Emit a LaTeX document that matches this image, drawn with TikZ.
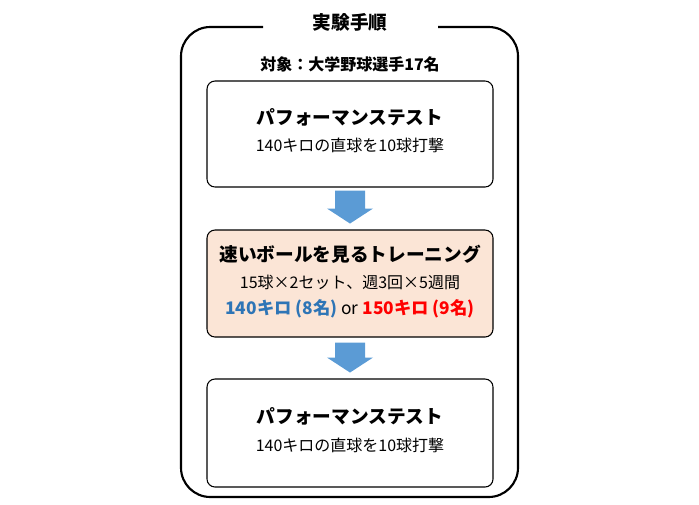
\documentclass[tikz,border=0pt]{standalone}
\usepackage{fontspec}
\setmainfont{Noto Sans CJK JP}
\usetikzlibrary{calc}
\definecolor{peach}{HTML}{FBE5D6}
\definecolor{arrowblue}{HTML}{5B9BD5}
\definecolor{txtblue}{HTML}{2E75B6}
\definecolor{txtred}{HTML}{FF0000}
\begin{document}
\begin{tikzpicture}[x=0.75pt,y=-0.75pt,
  stepbox/.style={draw=black,line width=0.8pt,rounded corners=6pt,minimum width=214.5pt,inner sep=0pt},
  bigtitle/.style={font=\fontsize{14}{16}\selectfont\bfseries,inner sep=0pt},
  subline/.style={font=\fontsize{12}{14}\selectfont,inner sep=0pt},
  boldline/.style={font=\fontsize{12}{14}\selectfont\bfseries,inner sep=0pt},
  colorline/.style={font=\fontsize{13}{15}\selectfont\bfseries,inner sep=0pt},
  blockarrow/.style={fill=arrowblue,draw=none}
]
\useasboundingbox (0,0) rectangle (699,504);
% outer frame with title gap
\coordinate (gl) at (263,27);
\coordinate (gr) at (438,27);
\draw[line width=1.6pt,rounded corners=22pt] (gl) -- (181,27) -- (181,497) -- (518,497) -- (518,27) -- (gr);
\node[bigtitle] (title) at (350,22) {実験手順};
\node[boldline] (subj) at (350,64) {対象：大学野球選手17名};
% boxes
\node[stepbox,minimum height=79.5pt] (b1) at (350,134) {};
\node[bigtitle] (b1t) at (350,117) {パフォーマンステスト};
\node[subline] (b1s) at (350,145) {140キロの直球を10球打撃};
\node[stepbox,fill=peach,minimum height=80.25pt] (b2) at (350,283.5) {};
\node[bigtitle] (b2t) at (350,254) {速いボールを見るトレーニング};
\node[subline] (b2s) at (350,282) {15球×2セット、週3回×5週間};
\node[colorline] (b2c) at (350,309) {\textcolor{txtblue}{140キロ (8名)} \textmd{or} \textcolor{txtred}{150キロ (9名)}};
\node[stepbox,minimum height=81pt] (b3) at (350,433) {};
\node[bigtitle] (b3t) at (350,416) {パフォーマンステスト};
\node[subline] (b3s) at (350,445) {140キロの直球を10球打撃};
% block arrows
\begin{scope}[shift={(b1.south)}]
  \fill[blockarrow] (-15,3) -- (15,3) -- (15,21) -- (23,21) -- (0,36) -- (-23,21) -- (-15,21) -- cycle;
\end{scope}
\begin{scope}[shift={(b2.south)}]
  \fill[blockarrow] (-15,5) -- (15,5) -- (15,20) -- (23,20) -- (0,35) -- (-23,20) -- (-15,20) -- cycle;
\end{scope}
\end{tikzpicture}
\end{document}
